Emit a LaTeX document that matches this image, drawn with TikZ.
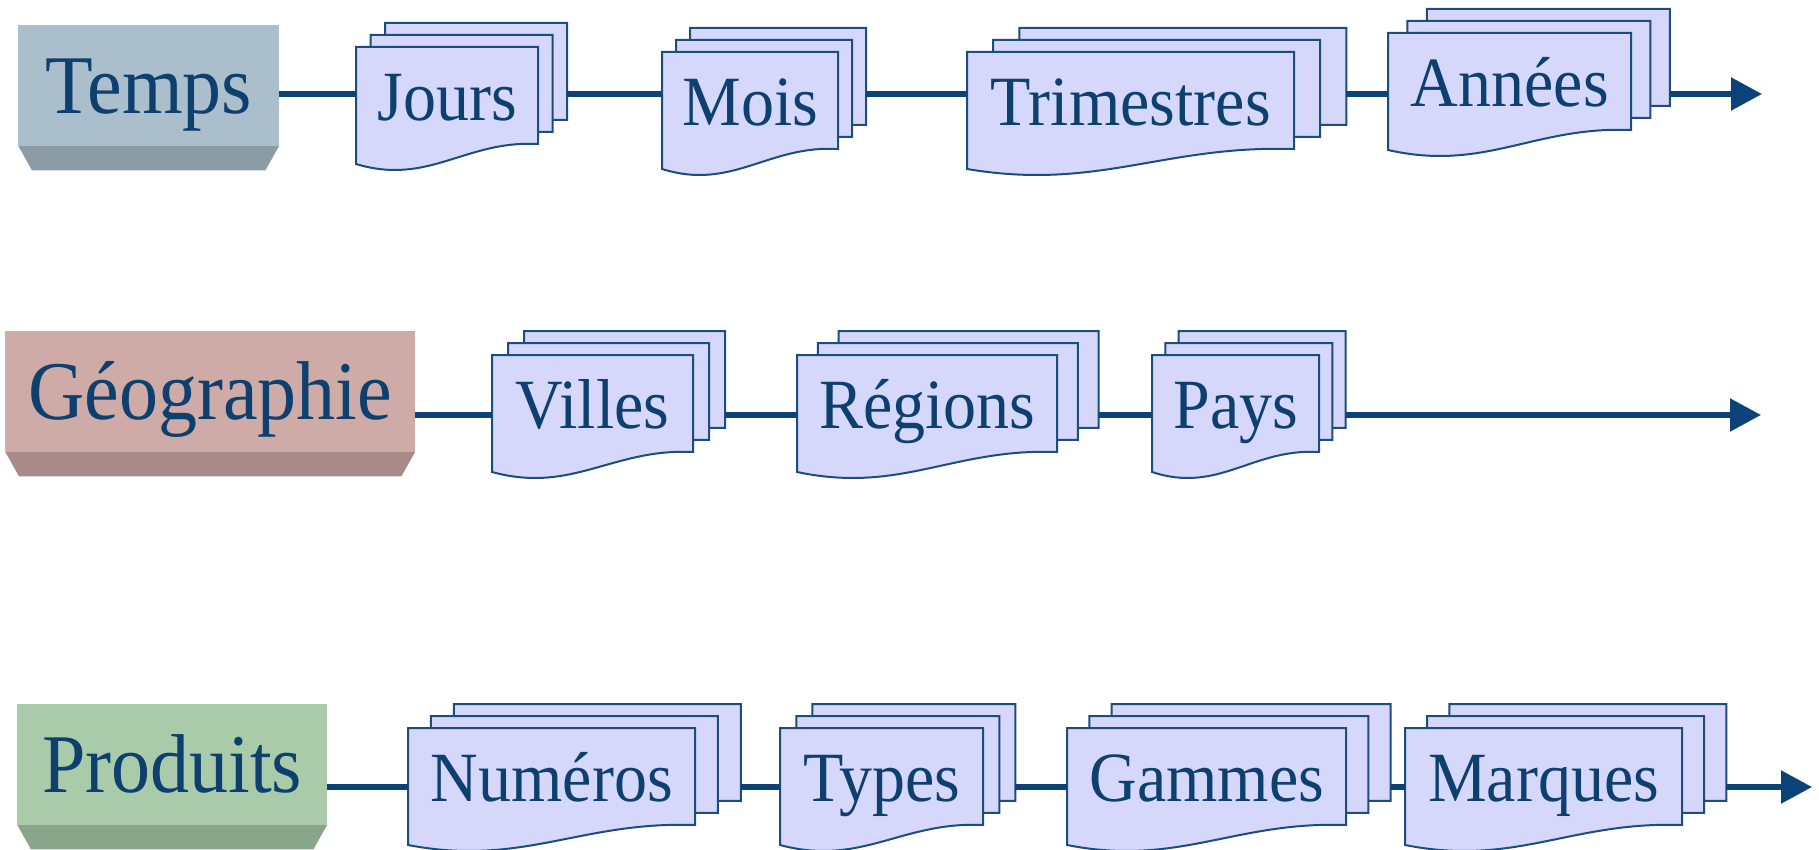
\documentclass[tikz,border=0pt]{standalone}
\usepackage{fontspec}
\setmainfont{Liberation Serif}
\usetikzlibrary{arrows.meta}
\definecolor{navy}{HTML}{0B4379}
\definecolor{textcol}{HTML}{0D3F6F}
\definecolor{sheetfill}{HTML}{D6D8FB}
\definecolor{sheetline}{HTML}{1D4D7D}
\definecolor{tempsface}{HTML}{AABFCB}
\definecolor{tempsbevel}{HTML}{8B9CA6}
\definecolor{geoface}{HTML}{CFABA8}
\definecolor{geobevel}{HTML}{A88A88}
\definecolor{prodface}{HTML}{AACBAA}
\definecolor{prodbevel}{HTML}{8AA68A}

% slightly taller letters, as in the picture
\newcommand{\tall}[1]{\scalebox{1}[1.07]{#1}}

% stack of three sheets: name, left, top, width, text
\newcommand{\docstack}[5]{%
  \pgfmathsetmacro{\offx}{0.08*#4}%
  \foreach \k in {2,1,0}{%
    \pgfmathsetmacro{\shx}{#2+\k*\offx}%
    \pgfmathsetmacro{\shy}{#3-\k*12}%
    \draw[sheet] (\shx,\shy) -- ({\shx+#4},\shy) -- ({\shx+#4},{\shy+97})
      .. controls ({\shx+0.6*#4},{\shy+93}) and ({\shx+0.4*#4},{\shy+139}) .. (\shx,{\shy+117}) -- cycle;
  }%
  \node[docnode, minimum width=#4pt] (#1) at (#2,#3) {\tall{#5}};
  \coordinate (#1-r) at ({#2+#4+2*\offx},#3);
}

% bevel under a category box
\newcommand{\bevel}[2]{%
  \fill[#2] (#1.south west) -- (#1.south east) -- ([xshift=-14pt,yshift=-25pt]#1.south east)
    -- ([xshift=14pt,yshift=-25pt]#1.south west) -- cycle;
}

\begin{document}
\begin{tikzpicture}[x=1pt, y=-1pt,
    sheet/.style={draw=sheetline, fill=sheetfill, line width=2pt, line join=miter},
    docnode/.style={anchor=north west, minimum height=97pt, inner sep=0pt,
      text height=50pt, text depth=0pt, text=textcol, font=\fontsize{66}{70}\selectfont},
    cat/.style={anchor=north west, minimum height=120pt, inner sep=0pt,
      text height=56pt, text depth=0pt, text=textcol, font=\fontsize{78}{80}\selectfont},
    flow/.style={draw=navy, line width=5.5pt},
    tip/.style={-{Triangle[length=31pt, width=32pt]}}]
    \useasboundingbox (0,0) rectangle (1819,850);

    % Temps
    \node(Temps)[cat, fill=tempsface, minimum width=261pt] at (18,25) {\tall{Temps}};
    \bevel{Temps}{tempsbevel}
    \docstack{jours}{356}{47}{182}{Jours}
    \docstack{mois}{662}{52}{176}{Mois}
    \docstack{trim}{967}{52}{327}{Trimestres}
    \docstack{annees}{1388}{33}{243}{Années}
    \coordinate (endT) at (1762,94);
    \draw[flow] (Temps.east |- endT) -- (jours.west |- endT);
    \draw[flow] (jours-r |- endT) -- (mois.west |- endT);
    \draw[flow] (mois-r |- endT) -- (trim.west |- endT);
    \draw[flow] (trim-r |- endT) -- (annees.west |- endT);
    \draw[flow, tip] (annees-r |- endT) -- (endT);

    % Geographie
    \node(Geo)[cat, fill=geoface, minimum width=410pt] at (5,331) {\tall{Géographie}};
    \bevel{Geo}{geobevel}
    \docstack{villes}{492}{355}{201}{Villes}
    \docstack{regions}{797}{355}{260}{Régions}
    \docstack{pays}{1152}{355}{167}{Pays}
    \coordinate (endG) at (1761,415);
    \draw[flow] (Geo.east |- endG) -- (villes.west |- endG);
    \draw[flow] (villes-r |- endG) -- (regions.west |- endG);
    \draw[flow] (regions-r |- endG) -- (pays.west |- endG);
    \draw[flow, tip] (pays-r |- endG) -- (endG);

    % Produits
    \node(Produits)[cat, fill=prodface, minimum width=310pt] at (17,704) {\tall{Produits}};
    \bevel{Produits}{prodbevel}
    \docstack{numeros}{408}{728}{287}{Numéros}
    \docstack{types}{780}{728}{203}{Types}
    \docstack{gammes}{1067}{728}{279}{Gammes}
    \docstack{marques}{1405}{728}{277}{Marques}
    \coordinate (endP) at (1812,787);
    \draw[flow] (Produits.east |- endP) -- (numeros.west |- endP);
    \draw[flow] (numeros-r |- endP) -- (types.west |- endP);
    \draw[flow] (types-r |- endP) -- (gammes.west |- endP);
    \draw[flow] (gammes-r |- endP) -- (marques.west |- endP);
    \draw[flow, tip] (marques-r |- endP) -- (endP);
\end{tikzpicture}
\end{document}
